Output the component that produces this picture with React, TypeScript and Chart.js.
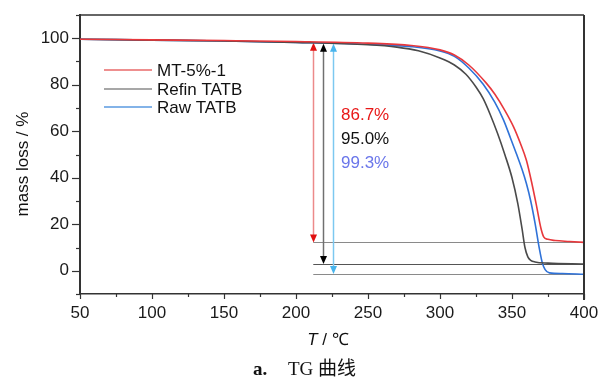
import React, { useEffect, useRef } from "react";
import { Chart, registerables } from "chart.js";

Chart.register(...registerables);

// ---- data ----
const seriesLabels = ["MT-5%-1", "Refin TATB", "Raw TATB"];

const mtX = [50, 100, 150, 200, 250, 280, 300, 310, 320, 332, 338, 345, 351, 356, 360, 364, 367, 370, 372, 375, 380, 390, 400];
const mtY = [99.6, 99.3, 99.0, 98.6, 97.9, 96.9, 95.0, 92.8, 88.5, 80.8, 76.0, 69.0, 62.0, 54.5, 47.5, 37.0, 28.0, 18.5, 14.6, 13.5, 13.0, 12.6, 12.2];

const refinX = [50, 100, 150, 200, 250, 270, 285, 300, 310, 318, 325, 330, 335, 340, 345, 350, 354, 357, 359, 361, 363, 366, 375, 400];
const refinY = [99.6, 99.2, 98.8, 98.2, 97.2, 96.2, 94.6, 91.5, 88.5, 84.5, 79.0, 74.0, 67.0, 59.0, 50.0, 40.0, 29.0, 18.0, 10.0, 6.0, 4.5, 3.8, 3.3, 2.9];

const rawX = [50, 100, 150, 200, 250, 280, 300, 310, 320, 330, 338, 344, 349, 353, 357, 360, 363, 366, 369, 371, 373, 376, 385, 400];
const rawY = [99.6, 99.2, 98.8, 98.2, 97.4, 96.4, 94.5, 92.2, 87.2, 80.2, 72.5, 65.0, 57.0, 50.4, 43.5, 37.5, 30.0, 20.5, 9.5, 3.5, 0.5, -0.9, -1.2, -1.5];

const residueLevels = [12.2, 2.9, -1.4];
const levelStartX = 212;
const levelEndX = 400;
const arrowX = [212, 218.5, 225.5];
const arrowTop = [98.1, 97.6, 97.6];
const lossLabels = ["86.7%", "95.0%", "99.3%"];

const xMin = 50, xMax = 400, xStep = 25, xLabelStep = 50;
const yMin = -10, yMax = 110, yStep = 10, yLabelStep = 20;

const xTitleItalic = "T";
const xTitleRest = " / \u2103";
const yTitle = "mass loss / %";
const captionBold = "a.";
const captionText = "TG \u66f2\u7ebf";

// ---- styles ----
const lineColors = ["#e8383c", "#4a4a4a", "#2f72d8"];
const legendColors = ["#e86a6a", "#8a8a8a", "#5a9ae0"];
const arrowShaft = ["#ec8a8a", "#707070", "#7cc8f0"];
const arrowHead = ["#e01010", "#000000", "#48b4ec"];
const levelColors = ["#8a8a8a", "#555555", "#8a8a8a"];
const lossColors = ["#e81818", "#111111", "#6a76ea"];
const FONT = "'Liberation Sans', Arial, sans-serif";

function pts(xs: number[], ys: number[]) {
  return xs.map((x, i) => ({ x, y: ys[i] }));
}

const overlay = {
  id: "overlay",
  beforeDatasetsDraw(chart: any) {
    const { ctx, scales } = chart;
    const xs = scales.x, ys = scales.y;
    ctx.save();
    residueLevels.forEach((lv, i) => {
      const y = Math.round(ys.getPixelForValue(lv)) + 0.5;
      ctx.strokeStyle = levelColors[i];
      ctx.lineWidth = 1;
      ctx.beginPath();
      ctx.moveTo(xs.getPixelForValue(levelStartX), y);
      ctx.lineTo(xs.getPixelForValue(levelEndX), y);
      ctx.stroke();
    });
    arrowX.forEach((ax, i) => {
      const x = Math.round(xs.getPixelForValue(ax)) + 0.5;
      const y1 = ys.getPixelForValue(arrowTop[i]);
      const y2 = ys.getPixelForValue(residueLevels[i]);
      const hl = 8, hw = 3.5;
      ctx.strokeStyle = arrowShaft[i];
      ctx.lineWidth = 1.5;
      ctx.beginPath();
      ctx.moveTo(x, y1 + hl - 1);
      ctx.lineTo(x, y2 - hl + 1);
      ctx.stroke();
      ctx.fillStyle = arrowHead[i];
      ctx.beginPath();
      ctx.moveTo(x, y1);
      ctx.lineTo(x - hw, y1 + hl);
      ctx.lineTo(x + hw, y1 + hl);
      ctx.closePath();
      ctx.fill();
      ctx.beginPath();
      ctx.moveTo(x, y2);
      ctx.lineTo(x - hw, y2 - hl);
      ctx.lineTo(x + hw, y2 - hl);
      ctx.closePath();
      ctx.fill();
    });
    ctx.restore();
  },
  afterDraw(chart: any) {
    const { ctx, scales, chartArea } = chart;
    const xs = scales.x, ys = scales.y;
    const { left, right, top, bottom } = chartArea;
    ctx.save();
    ctx.strokeStyle = "#333";
    ctx.lineWidth = 1.5;
    ctx.beginPath();
    ctx.moveTo(left, top);
    ctx.lineTo(right, top);
    ctx.stroke();
    ctx.lineWidth = 2;
    ctx.beginPath();
    ctx.moveTo(right, top);
    ctx.lineTo(right, bottom + 6);
    ctx.stroke();
    ctx.strokeStyle = "#333";
    ctx.lineWidth = 1.2;
    for (let v = yMin; v <= yMax; v += yStep) {
      const y = Math.round(ys.getPixelForValue(v)) + 0.5;
      const len = v % yLabelStep === 0 ? 8 : 4;
      ctx.beginPath();
      ctx.moveTo(left - len, y);
      ctx.lineTo(left, y);
      ctx.stroke();
    }
    for (let v = xMin; v <= xMax; v += xStep) {
      const x = Math.round(xs.getPixelForValue(v)) + 0.5;
      const len = v % xLabelStep === 0 ? 5 : 3;
      ctx.beginPath();
      ctx.moveTo(x, bottom);
      ctx.lineTo(x, bottom + len);
      ctx.stroke();
    }
    // legend
    ctx.font = `17px ${FONT}`;
    ctx.textBaseline = "middle";
    ctx.textAlign = "left";
    const legendRows = [70, 89, 107];
    seriesLabels.forEach((lab, i) => {
      const y = legendRows[i];
      ctx.strokeStyle = legendColors[i];
      ctx.lineWidth = 1.5;
      ctx.beginPath();
      ctx.moveTo(104, y);
      ctx.lineTo(152, y);
      ctx.stroke();
      ctx.fillStyle = "#111";
      ctx.fillText(lab, 157, y + 1);
    });
    const lossRows = [115, 139, 163];
    lossLabels.forEach((t, i) => {
      ctx.fillStyle = lossColors[i];
      ctx.fillText(t, 341, lossRows[i]);
    });
    // x title
    ctx.fillStyle = "#111";
    ctx.font = `italic 17px ${FONT}`;
    const wT = ctx.measureText(xTitleItalic).width;
    ctx.font = `17px ${FONT}`;
    const wR = ctx.measureText(xTitleRest).width;
    const cx = 328;
    const sx = cx - (wT + wR) / 2;
    ctx.font = `italic 17px ${FONT}`;
    ctx.fillText(xTitleItalic, sx, 340);
    ctx.font = `17px ${FONT}`;
    ctx.fillText(xTitleRest, sx + wT, 340);
    // y title
    ctx.save();
    ctx.translate(23, 164);
    ctx.rotate(-Math.PI / 2);
    ctx.textAlign = "center";
    ctx.fillText(yTitle, 0, 0);
    ctx.restore();
    // caption
    ctx.textBaseline = "alphabetic";
    ctx.textAlign = "left";
    ctx.font = `bold 19px 'Liberation Serif', 'Times New Roman', serif`;
    ctx.fillText(captionBold, 253, 375);
    ctx.font = `19px 'Liberation Serif', 'Noto Sans CJK SC', serif`;
    ctx.fillText(captionText, 288, 375);
    ctx.restore();
  },
};

export default function App() {
  const ref = useRef<HTMLCanvasElement | null>(null);
  useEffect(() => {
    if (!ref.current) return;
    const chart = new Chart(ref.current, {
      type: "line",
      data: {
        datasets: [
          { label: seriesLabels[0], data: pts(mtX, mtY), borderColor: lineColors[0] },
          { label: seriesLabels[1], data: pts(refinX, refinY), borderColor: lineColors[1] },
          { label: seriesLabels[2], data: pts(rawX, rawY), borderColor: lineColors[2] },
        ].map((d) => ({
          ...d,
          borderWidth: 1.6,
          pointRadius: 0,
          fill: false,
          cubicInterpolationMode: "monotone" as const,
        })),
      },
      options: {
        responsive: false,
        animation: false,
        layout: { padding: { top: 15, right: 20, left: 0, bottom: 0 } },
        plugins: { legend: { display: false }, tooltip: { enabled: false } },
        scales: {
          x: {
            type: "linear",
            min: xMin,
            max: xMax,
            grid: { display: false, drawTicks: false },
            border: { display: true, color: "#333", width: 1.6 },
            ticks: {
              stepSize: xStep,
              autoSkip: false,
              maxRotation: 0,
              padding: 9,
              color: "#1a1a1a",
              font: { family: FONT, size: 17 },
              callback: (v: any) => (Number(v) % xLabelStep === 0 ? String(v) : ""),
            },
            afterFit: (s: any) => {
              s.height = 90;
              s.paddingLeft = 0;
              s.paddingRight = 0;
            },
          },
          y: {
            type: "linear",
            min: yMin,
            max: yMax,
            grid: { display: false, drawTicks: false },
            border: { display: true, color: "#333", width: 2 },
            ticks: {
              stepSize: yStep,
              autoSkip: false,
              padding: 11,
              color: "#1a1a1a",
              font: { family: FONT, size: 17 },
              callback: (v: any) => (Number(v) % yLabelStep === 0 ? String(v) : ""),
            },
            afterFit: (s: any) => {
              s.width = 80;
              s.paddingTop = 0;
              s.paddingBottom = 0;
            },
          },
        },
      },
      plugins: [overlay],
    });
    return () => chart.destroy();
  }, []);
  return (
    <div style={{ position: "fixed", left: 0, top: 0, width: 604, height: 384, background: "#fff" }}>
      <canvas ref={ref} width={604} height={384} style={{ display: "block" }} />
    </div>
  );
}
